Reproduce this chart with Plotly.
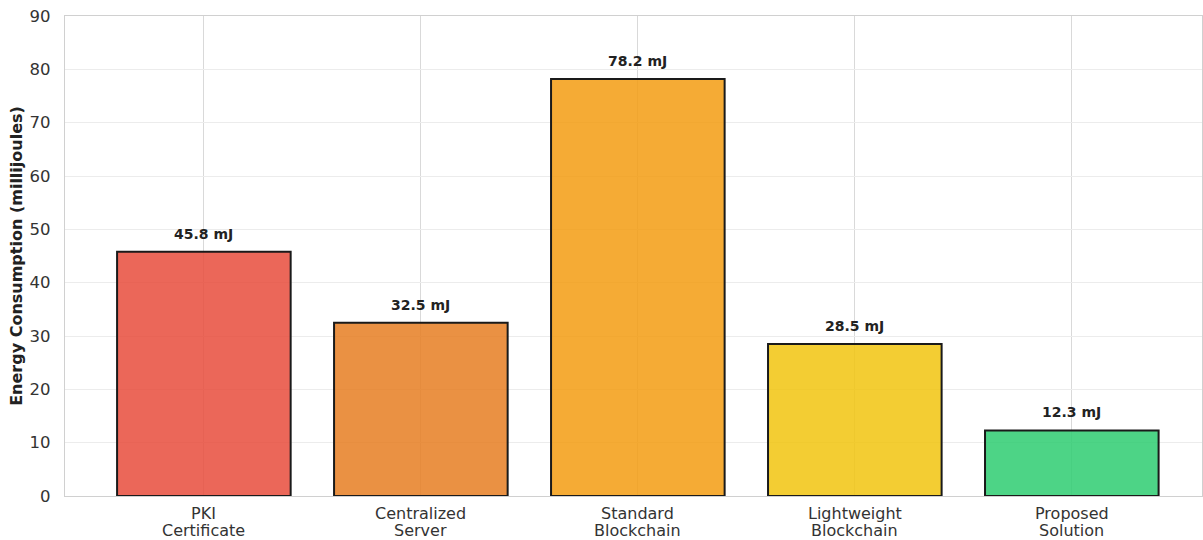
import plotly.graph_objects as go

# Energy consumption per authentication approach
category_line1 = ["PKI", "Centralized", "Standard", "Lightweight", "Proposed"]
category_line2 = ["Certificate", "Server", "Blockchain", "Blockchain", "Solution"]
energy_mj = [45.8, 32.5, 78.2, 28.5, 12.3]
bar_colors = ["rgba(231,76,60,0.85)", "rgba(230,126,34,0.85)", "rgba(243,156,18,0.85)",
              "rgba(241,196,15,0.85)", "rgba(46,204,113,0.85)"]
y_ticks = [0, 10, 20, 30, 40, 50, 60, 70, 80, 90]

font_family = "DejaVu Sans, Verdana, sans-serif"
positions = list(range(len(energy_mj)))

fig = go.Figure()
fig.add_trace(go.Bar(
    x=positions,
    y=energy_mj,
    width=0.8,
    marker=dict(color=bar_colors, line=dict(color="#1a1a1a", width=2)),
    hoverinfo="skip",
))

# value labels above each bar
for i, v in enumerate(energy_mj):
    fig.add_annotation(
        x=i, y=v, text=f"<b>{v:.1f} mJ</b>", showarrow=False,
        yanchor="bottom", yshift=8,
        font=dict(family=font_family, size=14, color="#222222"),
    )

# two-line category labels under the axis (tight line spacing)
for i, (l1, l2) in enumerate(zip(category_line1, category_line2)):
    for text, shift in ((l1, -17), (l2, -34)):
        fig.add_annotation(
            x=i, xref="x", y=0, yref="paper", text=text, showarrow=False,
            yanchor="middle", yshift=shift, borderpad=0,
            font=dict(family=font_family, size=16, color="#333333"),
        )

fig.update_layout(
    width=1203, height=540,
    margin=dict(l=65, r=1, t=16, b=44),
    paper_bgcolor="white", plot_bgcolor="white",
    showlegend=False,
    font=dict(family=font_family, size=16, color="#333333"),
)
fig.update_xaxes(
    range=[-0.64, 4.6], automargin=False,
    tickmode="array", tickvals=positions, showticklabels=False,
    showgrid=True, gridcolor="#d9d9d9", gridwidth=1,
    showline=True, linecolor="#d0d0d0", linewidth=1.2, mirror=True,
    ticks="", zeroline=False,
)
fig.update_yaxes(
    range=[0, 90], automargin=False,
    tickmode="array", tickvals=y_ticks,
    showgrid=True, gridcolor="#ececec", gridwidth=1,
    showline=True, linecolor="#d0d0d0", linewidth=1.2, mirror=True,
    ticks="", ticklabelstandoff=10,
    tickfont=dict(family=font_family, size=16.5, color="#333333"),
    title=dict(text="<b>Energy Consumption (millijoules)</b>", standoff=2,
               font=dict(family=font_family, size=16, color="#222222")),
    zeroline=False,
)

fig.write_html("out.html")
